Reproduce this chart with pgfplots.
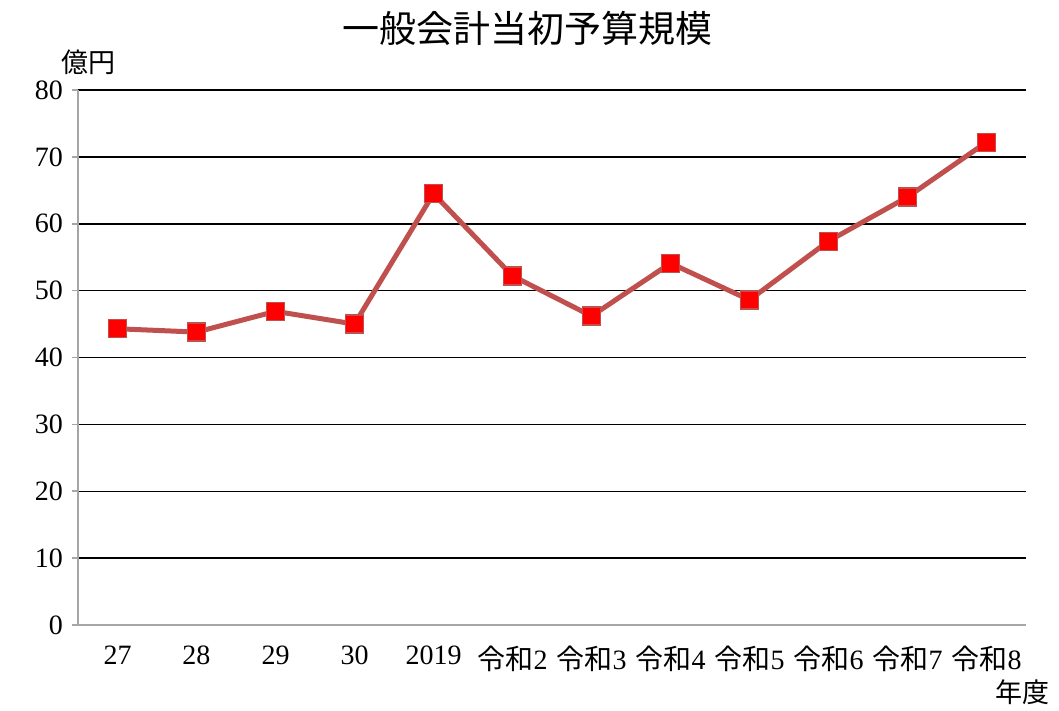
\documentclass[border=0pt]{standalone}
\usepackage{fontspec}
\setmainfont{Liberation Serif}
\newfontfamily\cjk{Noto Sans CJK JP}
\usepackage{pgfplots}
\pgfplotsset{compat=1.18}
\definecolor{linered}{HTML}{C0504D}
\begin{document}
\begin{tikzpicture}
\useasboundingbox (-39bp,-43bp) rectangle (490.5bp,312.5bp);
\begin{axis}[
  at={(0,0)}, anchor=south west,
  width=474bp, height=267.5bp, scale only axis,
  xmin=-0.5, xmax=11.5, ymin=0, ymax=80,
  ytick={0,10,...,80},
  xtick={0,...,11},
  xticklabels={27,28,29,30,2019,{\cjk 令和}2,{\cjk 令和}3,{\cjk 令和}4,{\cjk 令和}5,{\cjk 令和}6,{\cjk 令和}7,{\cjk 令和}8},
  minor xtick={-0.5,0.5,...,11.5},
  axis x line*=bottom, axis y line*=left,
  axis line style={gray!70, line width=0.8bp},
  ymajorgrids, grid style={black, line width=0.75bp},
  tick align=outside,
  major tick length=3bp, minor tick length=3bp,
  xtick style={draw=none},
  minor x tick style={gray!70, line width=0.8bp},
  ytick style={gray!70, line width=0.8bp},
  /pgf/number format/assume math mode=true,
  tick label style={font=\fontsize{14bp}{16bp}\selectfont},
  xticklabel style={anchor=north, yshift=-4bp},
  yticklabel style={xshift=-1bp},
]
\addplot[color=linered, line width=2.5bp, mark=square*, mark size=4.5bp,
  mark options={fill=red, draw=linered, line width=0.6bp}]
  coordinates {
  (0,44.3) (1,43.8) (2,46.9) (3,45.0) (4,64.5) (5,52.2)
  (6,46.2) (7,54.1) (8,48.6) (9,57.4) (10,64.0) (11,72.2)
  };
\end{axis}
\node[font=\cjk\fontsize{18.5bp}{20bp}\selectfont] at (224.5bp,298.5bp) {一般会計当初予算規模};
\node[font=\cjk\fontsize{13.5bp}{15bp}\selectfont] at (5bp,281.5bp) {億円};
\node[font=\cjk\fontsize{13.5bp}{15bp}\selectfont] at (472bp,-33.5bp) {年度};
\end{tikzpicture}
\end{document}
